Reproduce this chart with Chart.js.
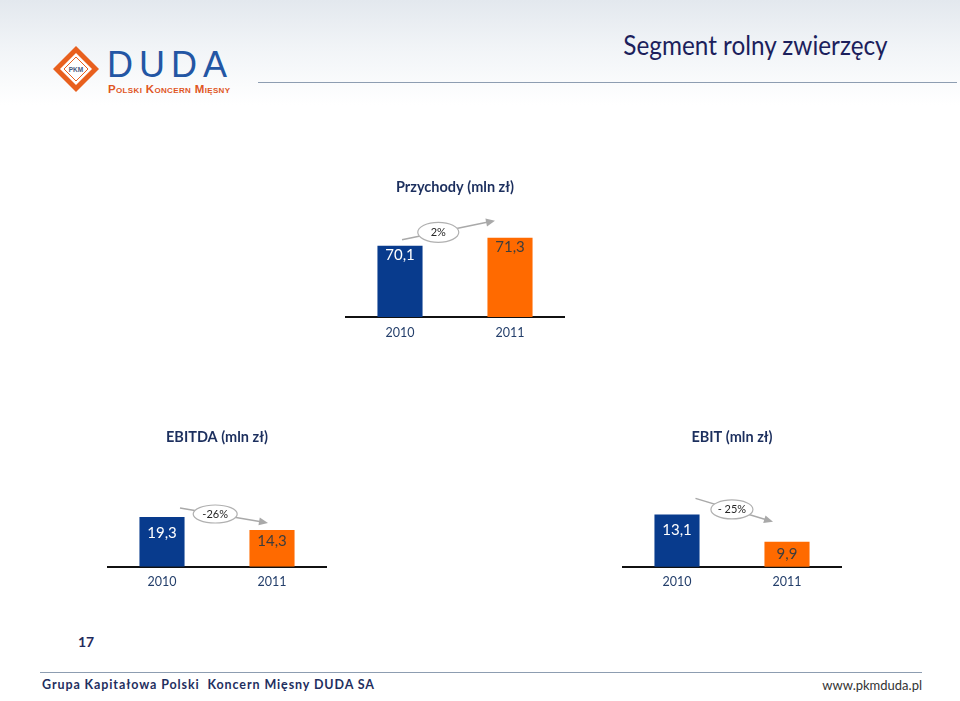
<!DOCTYPE html>
<html lang="pl">
<head>
<meta charset="utf-8">
<title>Segment rolny zwierzęcy</title>
<script src="https://cdn.jsdelivr.net/npm/chart.js@4.4.1/dist/chart.umd.min.js"></script>
<style>
  html, body { margin: 0; padding: 0; }
  body {
    width: 960px; height: 701px; position: relative; overflow: hidden;
    background: #fff; font-family: Lato, "Open Sans", sans-serif;
  }
  .header-bg {
    position: absolute; left: 0; top: 0; width: 960px; height: 105px;
    background: linear-gradient(#e3e8ee 0%, #f1f4f7 45%, #ffffff 100%);
  }
  .rule { position: absolute; height: 0; border-top: 1.5px solid #8d9db1; }
  .slide-title {
    position: absolute; right: 72px; top: 28px; font-size: 27px; color: #1c1f5c;
    white-space: nowrap; transform: scaleX(0.9); transform-origin: right center;
  }
  .logo-text {
    position: absolute; left: 107px; top: 51px; font-family: "Liberation Sans", Arial, sans-serif;
    font-size: 36px; color: #2356a4; letter-spacing: 6px; line-height: 28px;
  }
  .logo-sub {
    position: absolute; left: 108px; top: 83px; font-family: "Liberation Sans", Arial, sans-serif;
    font-size: 11.5px; font-weight: bold; color: #e0561f; font-variant: small-caps;
    letter-spacing: 0.35px; white-space: nowrap; line-height: 12px;
  }
  .page-no {
    position: absolute; left: 78px; top: 633px; font-size: 14px; font-weight: bold; color: #1f2a5c;
  }
  .foot-left {
    position: absolute; left: 42px; top: 677px; font-size: 12.5px; font-weight: bold; color: #1f2f5f;
    letter-spacing: 0.9px; white-space: nowrap;
  }
  .foot-right {
    position: absolute; right: 38px; top: 677px; font-size: 13px; color: #333; white-space: nowrap;
  }
  canvas { position: absolute; }
</style>
</head>
<body>
<div class="header-bg"></div>
<svg style="position:absolute;left:50px;top:43px" width="52" height="52" viewBox="0 0 52 52">
  <polygon points="26,3 49,26 26,49 3,26" fill="#e8601e"/>
  <polygon points="26,10 42,26 26,42 10,26" fill="#ffffff"/>
  <polygon points="26,14 38,26 26,38 14,26" fill="none" stroke="#e8601e" stroke-width="1"/>
  <text x="26" y="28.5" text-anchor="middle" font-family="Liberation Sans, Arial" font-size="6.5" font-weight="bold" fill="#4a5a80">PKM</text>
</svg>
<div class="logo-text">DUDA</div>
<div class="logo-sub">Polski Koncern Mięsny</div>
<div class="slide-title">Segment rolny zwierzęcy</div>
<div class="rule" style="left:258px;top:82px;width:699px"></div>

<canvas id="przychodyChart" width="220" height="175" style="left:345px;top:170px"></canvas>
<canvas id="ebitdaChart" width="220" height="175" style="left:107px;top:420px"></canvas>
<canvas id="ebitChart" width="220" height="175" style="left:622px;top:420px"></canvas>

<div class="page-no">17</div>
<div class="rule" style="left:40px;top:672px;width:882px"></div>
<div class="foot-left">Grupa Kapitałowa Polski&nbsp; Koncern Mięsny DUDA SA</div>
<div class="foot-right">www.pkmduda.pl</div>

<script>
// dane z wykresów
const years = ['2010', '2011'];
const przychody = [70.1, 71.3];
const ebitda = [19.3, 14.3];
const ebit = [13.1, 9.9];
const zmianaPrzychody = '2%';
const zmianaEbitda = '-26%';
const zmianaEbit = '- 25%';

const BLUE = '#083b8d';
const ORANGE = '#ff6a00';
const NAVY = '#1c2f5e';

// etykiety wartości w słupkach + strzałka ze zmianą procentową
const barNotes = {
    id: 'barNotes',
    afterDatasetsDraw(chart, args, opts) {
        const ctx = chart.ctx;
        const bars = chart.getDatasetMeta(0).data;
        const values = chart.data.datasets[0].data;
        const a = opts.arrow;

        ctx.save();
        // strzałka
        const x1 = bars[0].x + a.from[0], y1 = bars[0].y + a.from[1];
        const x2 = bars[1].x + a.to[0], y2 = bars[1].y + a.to[1];
        const ang = Math.atan2(y2 - y1, x2 - x1);
        ctx.strokeStyle = '#a9a9a9';
        ctx.fillStyle = '#a9a9a9';
        ctx.lineWidth = 1.5;
        ctx.beginPath();
        ctx.moveTo(x1, y1);
        ctx.lineTo(x2 - 7 * Math.cos(ang), y2 - 7 * Math.sin(ang));
        ctx.stroke();
        ctx.beginPath();
        ctx.moveTo(x2, y2);
        ctx.lineTo(x2 - 9 * Math.cos(ang) + 4 * Math.sin(ang), y2 - 9 * Math.sin(ang) - 4 * Math.cos(ang));
        ctx.lineTo(x2 - 9 * Math.cos(ang) - 4 * Math.sin(ang), y2 - 9 * Math.sin(ang) + 4 * Math.cos(ang));
        ctx.closePath();
        ctx.fill();

        // elipsa z opisem
        const ex = x1 + (x2 - x1) * a.t, ey = y1 + (y2 - y1) * a.t;
        ctx.beginPath();
        ctx.ellipse(ex, ey, a.w / 2, a.h / 2, 0, 0, Math.PI * 2);
        ctx.fillStyle = '#ffffff';
        ctx.fill();
        ctx.strokeStyle = '#b0b0b0';
        ctx.lineWidth = 1.2;
        ctx.stroke();
        ctx.fillStyle = '#262626';
        ctx.font = '11px Lato, sans-serif';
        ctx.textAlign = 'center';
        ctx.textBaseline = 'middle';
        ctx.fillText(a.text, ex, ey);

        // wartości
        ctx.font = '15px Lato, sans-serif';
        bars.forEach((bar, i) => {
            ctx.fillStyle = i === 0 ? '#ffffff' : '#3d3d3d';
            ctx.fillText(values[i].toFixed(1).replace('.', ','), bar.x, bar.y + opts.offsets[i]);
        });
        ctx.restore();
    }
};

function makeChart(id, title, values, yMin, yMax, titleBottom, scaleHeight, notes) {
    const ctx = document.getElementById(id).getContext('2d');
    return new Chart(ctx, {
        type: 'bar',
        data: {
            labels: years,
            datasets: [{
                data: values,
                backgroundColor: [BLUE, ORANGE],
                borderWidth: 0,
                barPercentage: 0.41,
                categoryPercentage: 1
            }]
        },
        options: {
            responsive: false,
            animation: false,
            layout: { padding: 0 },
            plugins: {
                legend: { display: false },
                tooltip: { enabled: false },
                title: {
                    display: true,
                    text: title,
                    color: NAVY,
                    font: { family: 'Lato', size: 14.5, weight: 'bold' },
                    padding: { top: 9, bottom: titleBottom }
                },
                barNotes: notes
            },
            scales: {
                x: {
                    grid: { display: false },
                    border: { display: true, color: '#111', width: 2 },
                    ticks: { color: '#243f6b', font: { family: 'Lato', size: 12.5 }, padding: 0 },
                    afterFit: function (scale) { scale.height = scaleHeight; }
                },
                y: { display: false, min: yMin, max: yMax }
            }
        },
        plugins: [barNotes]
    });
}

makeChart('przychodyChart', 'Przychody (mln zł)', przychody, 59.5, 75, 16.4, 28, {
    offsets: [9, 9],
    arrow: { from: [2, -6], to: [-15, -17], t: 0.39, w: 41, h: 20, text: zmianaPrzychody }
});
makeChart('ebitdaChart', 'EBITDA (mln zł)', ebitda, 0, 30, 43.1, 28.3, {
    offsets: [16, 11],
    arrow: { from: [18, -9], to: [-4, -7], t: 0.4, w: 44, h: 18, text: zmianaEbitda }
});
makeChart('ebitChart', 'EBIT (mln zł)', ebit, 7, 16, 43.1, 28.3, {
    offsets: [16, 12],
    arrow: { from: [18.5, -16], to: [-14, -20], t: 0.47, w: 42, h: 19, text: zmianaEbit }
});
</script>
</body>
</html>
